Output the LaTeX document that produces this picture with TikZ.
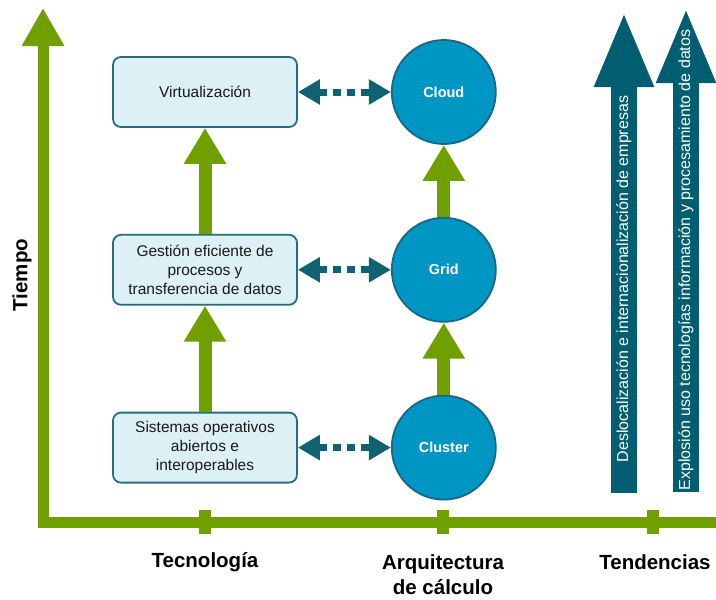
\documentclass[tikz,border=0pt]{standalone}
\usepackage{fontspec}
\setmainfont{Liberation Sans}
\usepackage{tikz}
\usetikzlibrary{positioning,calc,arrows.meta}
\definecolor{axisgreen}{RGB}{112,160,0}
\definecolor{tealdark}{RGB}{0,94,112}
\definecolor{boxfill}{RGB}{221,240,246}
\definecolor{boxdraw}{RGB}{36,110,128}
\definecolor{circfill}{RGB}{0,150,196}
\definecolor{circdraw}{RGB}{24,104,130}
\definecolor{dotcol}{RGB}{16,98,112}

\begin{document}
\begin{tikzpicture}[x=1pt, y=-1pt, node distance=106pt,
    tbox/.style={draw=boxdraw, line width=1.8pt, fill=boxfill, rounded corners=8pt, minimum width=184pt, minimum height=70pt, align=center, text=black!90, font=\fontsize{15.5}{19}\selectfont},
    tcirc/.style={draw=circdraw, line width=1.8pt, fill=circfill, circle, minimum size=104pt, text=white, font=\fontsize{14.5}{17}\selectfont\bfseries},
    uparr/.style={draw=axisgreen, line width=13pt, -{Triangle[length=36pt,width=40pt]}},
    dotlink/.style={draw=dotcol, line width=7pt, dash pattern=on 8pt off 6pt, {Triangle[length=22pt,width=24pt]}-{Triangle[length=22pt,width=24pt]}},
    trendarr/.style={draw=tealdark, line width=26pt, -{Triangle[length=76pt,width=54pt]}},
    axtick/.style={fill=axisgreen, minimum width=12pt, minimum height=24pt, inner sep=0pt},
    lbl/.style={font=\fontsize{20.5}{25}\selectfont\bfseries, align=center},
    ttext/.style={text=white, rotate=90, font=\fontsize{16}{19}\selectfont}]
    \useasboundingbox (0,0) rectangle (716,600);

    \coordinate (o) at (43,522);
    \coordinate (xe) at (716,522);
    \coordinate (ye) at (43,8);
    \draw[axisgreen, line width=11pt, -{Triangle[length=38pt,width=40pt]}] (xe) -- (o) -- (ye);
    \node[axtick] (k1) at (205,522) {};
    \node[axtick] (k2) at (443,522) {};
    \node[axtick] (k3) at (653,522) {};

    \node[lbl, rotate=90] (time) at (22,275) {Tiempo};
    \node[lbl] (l1) at (205,562) {Tecnología};
    \node[lbl] (l2) at (443,575) {Arquitectura\\de cálculo};
    \node[lbl] (l3) at (655,562) {Tendencias};

    \node[tbox] (virt) at (205,92) {Virtualización};
    \node[tbox, below=of virt] (gest) {Gestión eficiente de\\procesos y\\transferencia de datos};
    \node[tbox, below=of gest] (sist) {Sistemas operativos\\abiertos e\\interoperables};

    \node[tcirc, right=93pt of virt] (cloud) {Cloud};
    \node[tcirc, right=93pt of gest] (grid) {Grid};
    \node[tcirc, right=93pt of sist] (clus) {Cluster};

    \draw[uparr] (sist) -- (gest);
    \draw[uparr] (gest) -- (virt);
    \draw[uparr] (clus) -- (grid);
    \draw[uparr] (grid) -- (cloud);

    \draw[dotlink] (virt) -- (cloud);
    \draw[dotlink] (gest) -- (grid);
    \draw[dotlink] (sist) -- (clus);

    \coordinate (t1b) at (624,493);
    \coordinate (t1t) at (624,11);
    \coordinate (t2b) at (686,492);
    \coordinate (t2t) at (686,7);
    \draw[trendarr] (t1b) -- (t1t);
    \draw[trendarr] (t2b) -- (t2t);
    \node[ttext] (n1) at (624,279) {Deslocalización e internacionalización de empresas};
    \node[ttext] (n2) at (686,260) {Explosión uso tecnologías información y procesamiento de datos};
\end{tikzpicture}
\end{document}
